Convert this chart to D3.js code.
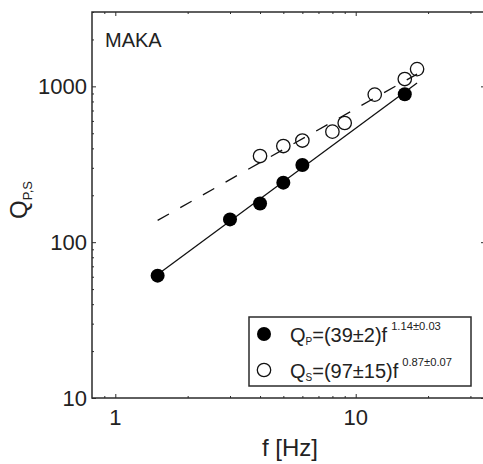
<!DOCTYPE html>
<html><head><meta charset="utf-8">
<script src="https://cdn.jsdelivr.net/npm/d3@7"></script>
<style>
body{margin:0;background:#fff;}
svg{display:block;font-family:"Liberation Sans",Arial,sans-serif;}
</style></head>
<body><svg id="c" width="483" height="464"></svg>
<script>
// Data
const freqP = [1.5, 3, 4, 5, 6, 16];
const qP    = [61, 140, 177, 241, 313, 889];
const freqS = [4, 5, 6, 8, 9, 12, 16, 18];
const qS    = [357, 414, 449, 512, 582, 885, 1114, 1290];
// Fit line endpoints (Q = A f^n)
const fitPx = [1.5, 18], fitPy = [62, 1052];
const fitSx = [1.5, 18], fitSy = [138, 1199];
const xMajor = [1, 10], yMajor = [10, 100, 1000];
const xMinor = [0.9, 2, 3, 4, 5, 6, 7, 8, 9, 20, 30];
const yMinor = [20,30,40,50,60,70,80,90,200,300,400,500,600,700,800,900,2000,3000];

const svg = d3.select("#c");
const L = 92, R = 485, T = 12, B = 398;
const x = d3.scaleLog().domain([0.8, 34.5]).range([L, R]);
const y = d3.scaleLog().domain([10, 3000]).range([B, T]);
const ink = "#2b2b2b";

// lines
const line = d3.line().x(d => x(d[0])).y(d => y(d[1]));
svg.append("path").datum(fitSx.map((v,i)=>[v, fitSy[i]]))
  .attr("d", line).attr("fill","none").attr("stroke","#111").attr("stroke-width",1.3)
  .attr("stroke-dasharray","13,13");
svg.append("path").datum(fitPx.map((v,i)=>[v, fitPy[i]]))
  .attr("d", line).attr("fill","none").attr("stroke","#111").attr("stroke-width",1.3);

// points
svg.append("g").selectAll("circle").data(freqS.map((v,i)=>[v,qS[i]])).join("circle")
  .attr("cx", d=>x(d[0])).attr("cy", d=>y(d[1])).attr("r",6.7)
  .attr("fill","none").attr("stroke","#111").attr("stroke-width",1.3);
svg.append("g").selectAll("circle").data(freqP.map((v,i)=>[v,qP[i]])).join("circle")
  .attr("cx", d=>x(d[0])).attr("cy", d=>y(d[1])).attr("r",7)
  .attr("fill","#000");

// axes with inward ticks
function axisTicks(axisGen, ticks, len, pos) {
  const g = svg.append("g").attr("transform", pos);
  g.call(axisGen.tickValues(ticks).tickSize(len).tickFormat(""));
  g.select(".domain").remove();
  g.selectAll("line").attr("stroke", ink).attr("stroke-width",1);
  return g;
}
axisTicks(d3.axisTop(x), xMajor, 4, `translate(0,${B})`);
axisTicks(d3.axisTop(x), xMinor, 2, `translate(0,${B})`);
axisTicks(d3.axisBottom(x), xMajor, 4, `translate(0,${T})`);
axisTicks(d3.axisBottom(x), xMinor, 2, `translate(0,${T})`);
axisTicks(d3.axisRight(y), yMajor, 4, `translate(${L},0)`);
axisTicks(d3.axisRight(y), yMinor, 2, `translate(${L},0)`);
axisTicks(d3.axisLeft(y), yMajor, 4, `translate(${R},0)`);
axisTicks(d3.axisLeft(y), yMinor, 2, `translate(${R},0)`);

svg.append("rect").attr("x",L).attr("y",T).attr("width",R-L).attr("height",B-T)
  .attr("fill","none").attr("stroke",ink).attr("stroke-width",1.5);

// tick labels
svg.append("g").selectAll("text").data(xMajor).join("text")
  .attr("x", d=>x(d)).attr("y", 425).attr("text-anchor","middle")
  .attr("font-size",22).attr("fill","#222").text(d=>d);
svg.append("g").selectAll("text").data(yMajor).join("text")
  .attr("x", 87).attr("y", d=>y(d)+8).attr("text-anchor","end")
  .attr("font-size",22).attr("fill","#222").text(d=>d);

// axis titles
svg.append("text").attr("x",290).attr("y",456).attr("text-anchor","middle")
  .attr("font-size",24).attr("fill","#222").text("f [Hz]");
const yt = svg.append("text").attr("transform","translate(27,200) rotate(-90)")
  .attr("text-anchor","middle").attr("font-size",24).attr("fill","#222");
yt.append("tspan").text("Q");
yt.append("tspan").attr("font-size",13).attr("dy",5).text("P,S");

// panel label
svg.append("text").attr("x",105).attr("y",47).attr("font-size",20).attr("fill","#222").text("MAKA");

// legend
svg.append("rect").attr("x",249).attr("y",317).attr("width",222).attr("height",69)
  .attr("fill","#fff").attr("stroke",ink).attr("stroke-width",1.5);
svg.append("circle").attr("cx",264).attr("cy",334).attr("r",7).attr("fill","#000");
svg.append("circle").attr("cx",264).attr("cy",370).attr("r",6.7).attr("fill","none").attr("stroke","#111").attr("stroke-width",1.3);
const legendRows = [
  {q:"Q", sub:"P", main:"=(39\u00b12)f", sup:"1.14\u00b10.03", yb:342},
  {q:"Q", sub:"S", main:"=(97\u00b115)f", sup:"0.87\u00b10.07", yb:378}
];
legendRows.forEach(r => {
  const t = svg.append("text").attr("x",290).attr("y",r.yb).attr("font-size",20).attr("fill","#222");
  t.append("tspan").text(r.q);
  t.append("tspan").attr("font-size",10).attr("dy",3).text(r.sub);
  t.append("tspan").attr("dy",-3).text(r.main);
  t.append("tspan").attr("font-size",11.2).attr("dx",4).attr("dy",-12).text(r.sup);
});
</script></body></html>
